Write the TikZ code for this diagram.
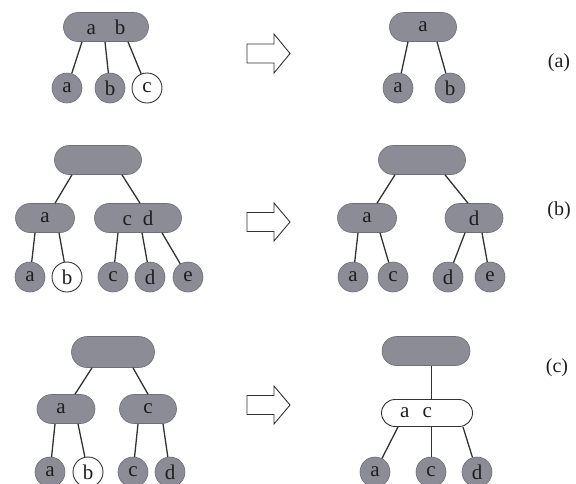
\documentclass[tikz,border=0pt]{standalone}
\usepackage{fontspec}
\setmainfont{Liberation Serif}
\definecolor{nodegray}{RGB}{140,140,150}
\definecolor{nodeedge}{RGB}{110,110,120}
\definecolor{linegray}{RGB}{50,50,50}
\definecolor{txt}{RGB}{30,30,30}
\tikzset{
  pill/.style={draw=nodeedge, fill=nodegray, line width=0.6pt, rounded corners=14.5pt,
    minimum height=29pt, inner sep=0pt, text=txt, font=\fontsize{21}{24}\selectfont},
  wpill/.style={draw=linegray, fill=white, line width=0.9pt, rounded corners=12.5pt,
    minimum height=25pt, inner sep=0pt, text=txt, font=\fontsize{21}{24}\selectfont},
  leaf/.style={circle, draw=nodeedge, fill=nodegray, line width=0.6pt, minimum size=30pt,
    inner sep=0pt, text=txt, font=\fontsize{21}{24}\selectfont},
  wleaf/.style={circle, draw=linegray, fill=white, line width=0.9pt, minimum size=30pt,
    inner sep=0pt, text=txt, font=\fontsize{21}{24}\selectfont},
  edge/.style={draw=linegray, line width=1.3pt},
  blockarrow/.style={draw=linegray, line width=0.9pt, fill=white, line join=miter},
  tag/.style={text=txt, font=\fontsize{20}{23}\selectfont}
}
\begin{document}
\begin{tikzpicture}[x=1pt,y=-1pt]
\useasboundingbox (0,0) rectangle (576,483);

% ---------- row (a) ----------
\node[pill, minimum width=85pt] (A1) at (106,27) {a\hspace{19pt}b};
\node[leaf]  (A1a) at (67,88)  {a};
\node[leaf]  (A1b) at (110,88) {b};
\node[wleaf] (A1c) at (147,88) {c};
\draw[edge] ([xshift=-24pt]A1.south) -- (A1a);
\draw[edge] ([xshift=-1pt]A1.south) -- (A1b);
\draw[edge] ([xshift=22pt]A1.south) -- (A1c);

\draw[blockarrow] (247,44) -- (274,44) -- (274,34) -- (290,53.5) -- (274,73) -- (274,63) -- (247,63) -- cycle;

\node[pill, minimum width=67pt] (A2) at (423,27) {a};
\node[leaf] (A2a) at (398,88) {a};
\node[leaf] (A2b) at (450,88) {b};
\draw[edge] ([xshift=-15pt]A2.south) -- (A2a);
\draw[edge] ([xshift=14pt]A2.south) -- (A2b);

\node[tag] (ta) at (559,63) {(a)};

% ---------- row (b) ----------
\node[pill, minimum width=87pt] (B1) at (98,160) {};
\node[pill, minimum width=59pt] (B1L) at (45,218) {a};
\node[pill, minimum width=87pt] (B1R) at (138,218) {c\hspace{11pt}d};
\node[leaf]  (B1a) at (30,277)  {a};
\node[wleaf] (B1b) at (67,277)  {b};
\node[leaf]  (B1c) at (113,277) {c};
\node[leaf]  (B1d) at (150,277) {d};
\node[leaf]  (B1e) at (188,277) {e};
\draw[edge] ([xshift=-26pt]B1.south) -- ([xshift=10pt]B1L.north);
\draw[edge] ([xshift=24pt]B1.south) -- ([xshift=2pt]B1R.north);
\draw[edge] ([xshift=-10pt]B1L.south) -- (B1a);
\draw[edge] ([xshift=14pt]B1L.south) -- (B1b);
\draw[edge] ([xshift=-20pt]B1R.south) -- (B1c);
\draw[edge] ([xshift=4pt]B1R.south) -- (B1d);
\draw[edge] ([xshift=24pt]B1R.south) -- (B1e);

\draw[blockarrow] (247,212.5) -- (274,212.5) -- (274,203) -- (290,222) -- (274,241) -- (274,231.5) -- (247,231.5) -- cycle;

\node[pill, minimum width=87pt] (B2) at (422,160) {};
\node[pill, minimum width=59pt] (B2L) at (367,218) {a};
\node[pill, minimum width=58pt] (B2R) at (474,218) {d};
\node[leaf] (B2a) at (353,277) {a};
\node[leaf] (B2c) at (393,277) {c};
\node[leaf] (B2d) at (448,277) {d};
\node[leaf] (B2e) at (490,277) {e};
\draw[edge] ([xshift=-27pt]B2.south) -- ([xshift=10pt]B2L.north);
\draw[edge] ([xshift=23pt]B2.south) -- ([xshift=-6pt]B2R.north);
\draw[edge] ([xshift=-9pt]B2L.south) -- (B2a);
\draw[edge] ([xshift=13pt]B2L.south) -- (B2c);
\draw[edge] ([xshift=-9pt]B2R.south) -- (B2d);
\draw[edge] ([xshift=8pt]B2R.south) -- (B2e);

\node[tag] (tb) at (559,211) {(b)};

% ---------- row (c) ----------
\node[pill, minimum width=83pt, minimum height=31pt, rounded corners=15.5pt] (C1) at (113,352) {};
\node[pill, minimum width=58pt] (C1L) at (66,409) {a\kern10pt};
\node[pill, minimum width=57pt] (C1R) at (148,409) {c};
\node[leaf]  (C1a) at (50,472)  {a};
\node[wleaf] (C1b) at (88,472)  {b};
\node[leaf]  (C1c) at (133,472) {c};
\node[leaf]  (C1d) at (170,472) {d};
\draw[edge] ([xshift=-21pt]C1.south) -- ([xshift=9pt]C1L.north);
\draw[edge] ([xshift=20pt]C1.south) -- (C1R.north);
\draw[edge] ([xshift=-11pt]C1L.south) -- (C1a);
\draw[edge] ([xshift=12pt]C1L.south) -- (C1b);
\draw[edge] ([xshift=-10pt]C1R.south) -- (C1c);
\draw[edge] ([xshift=15pt]C1R.south) -- (C1d);

\draw[blockarrow] (247,395.5) -- (274,395.5) -- (274,386) -- (290,405) -- (274,424) -- (274,414.5) -- (247,414.5) -- cycle;

\node[pill, minimum width=88pt] (C2) at (426,351) {};
\node[wpill, minimum width=91pt, minimum height=27pt, rounded corners=13.5pt] (C2M) at (427,413) {a\hspace{13pt}c\kern22pt};
\node[leaf] (C2a) at (375,472) {a};
\node[leaf] (C2c) at (431,472) {c};
\node[leaf] (C2d) at (477,472) {d};
\draw[edge, line width=1pt] ([xshift=5pt]C2.south) -- ([xshift=4pt]C2M.north);
\draw[edge] ([xshift=-29pt]C2M.south) -- (C2a);
\draw[edge, line width=1pt] ([xshift=4pt]C2M.south) -- (C2c);
\draw[edge] ([xshift=36pt]C2M.south) -- (C2d);

\node[tag] (tc) at (557,368) {(c)};
\end{tikzpicture}
\end{document}
